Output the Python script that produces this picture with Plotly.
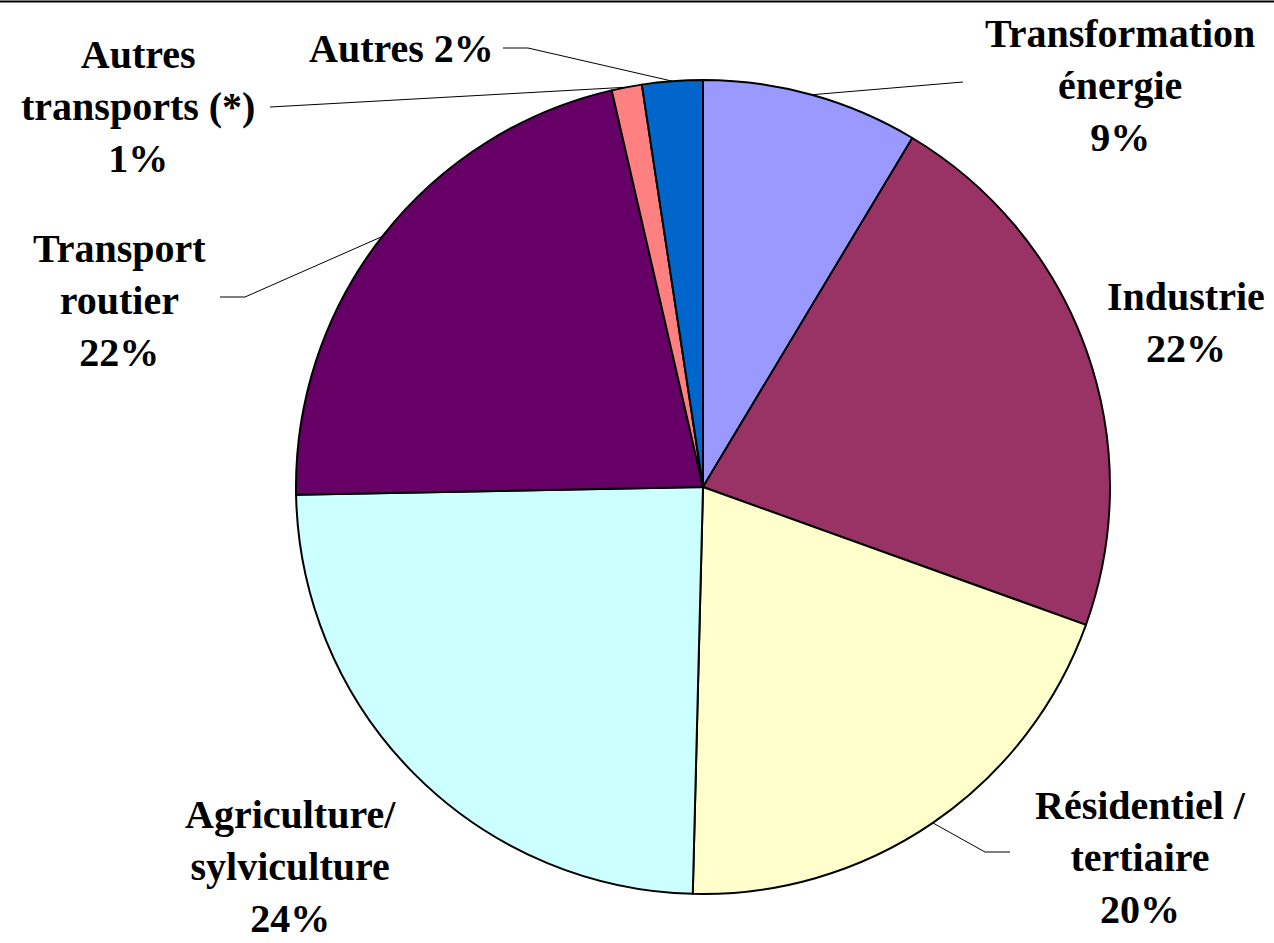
import math
import plotly.graph_objects as go

# ---- data ----
sectors = ["Transformation énergie", "Industrie", "Résidentiel / tertiaire",
           "Agriculture/ sylviculture", "Transport routier", "Autres transports (*)", "Autres"]
label_lines = [["Transformation", "énergie"], ["Industrie"], ["Résidentiel /", "tertiaire"],
               ["Agriculture/", "sylviculture"], ["Transport", "routier"],
               ["Autres", "transports (*)"], ["Autres"]]
shares = [8.6, 21.9, 19.9, 24.3, 21.7, 1.2, 2.4]
colors = ["#9999FF", "#993366", "#FFFFCC", "#CCFFFF", "#660066", "#FF8080", "#0066CC"]

W, H = 1274, 943
CX, CY, R = 703, 487, 407  # pie centre / radius in pixels

def px(x):
    return x / W

def py(y):
    return 1 - y / H

fig = go.Figure(go.Pie(
    labels=sectors, values=shares, sort=False, direction="clockwise", rotation=0,
    marker=dict(colors=colors, line=dict(color="black", width=2)),
    textinfo="none", hoverinfo="label+percent", showlegend=False,
    domain=dict(x=[px(CX - R), px(CX + R)], y=[py(CY + R), py(CY - R)]),
))

# label placement (centre of text block, pixels) and leader-line bends
label_pos = [(1120, 85), (1186, 323), (1140, 857), (290, 866), (119, 300), (138, 107), (None, 48)]
leader = [[(963, 82)], None, [(985, 852), (1010, 852)], None,
          [(245, 297), (220, 297)], [(270, 107)], [(528, 48), (503, 48)]]

total = sum(shares)
cum = 0
annotations = []
shapes = []
for i, v in enumerate(shares):
    mid = (cum + v / 2) / total * 2 * math.pi
    cum += v
    ex, ey = CX + R * math.sin(mid), CY - R * math.cos(mid)
    pct = f"{round(v / total * 100)}%"
    font = dict(family="Liberation Serif", size=40, color="black")
    if i == 6:
        annotations.append(dict(text="<b>" + label_lines[i][0] + " " + pct + "</b>",
                                x=px(496), y=py(label_pos[i][1]), xref="paper", yref="paper",
                                xanchor="right", yanchor="middle", showarrow=False, font=font))
    else:
        txt = "<br>".join(label_lines[i] + [pct])
        annotations.append(dict(text="<b>" + txt + "</b>", x=px(label_pos[i][0]), y=py(label_pos[i][1]),
                                xref="paper", yref="paper", xanchor="center", yanchor="middle",
                                showarrow=False, font=font, align="center"))
    if leader[i]:
        pts = [(ex, ey)] + leader[i]
        path = "M " + " L ".join(f"{px(a)},{py(b)}" for a, b in pts)
        shapes.append(dict(type="path", path=path, xref="paper", yref="paper",
                           line=dict(color="black", width=1)))

# top frame line
shapes.append(dict(type="line", xref="paper", yref="paper", x0=0, x1=1,
                   y0=py(1.5), y1=py(1.5), line=dict(color="black", width=2)))

fig.update_layout(width=W, height=H, margin=dict(l=0, r=0, t=0, b=0),
                  paper_bgcolor="white", plot_bgcolor="white",
                  annotations=annotations, shapes=shapes)

fig.write_html("out.html", config={"displayModeBar": False},
               post_script="document.body.style.margin='0';")
